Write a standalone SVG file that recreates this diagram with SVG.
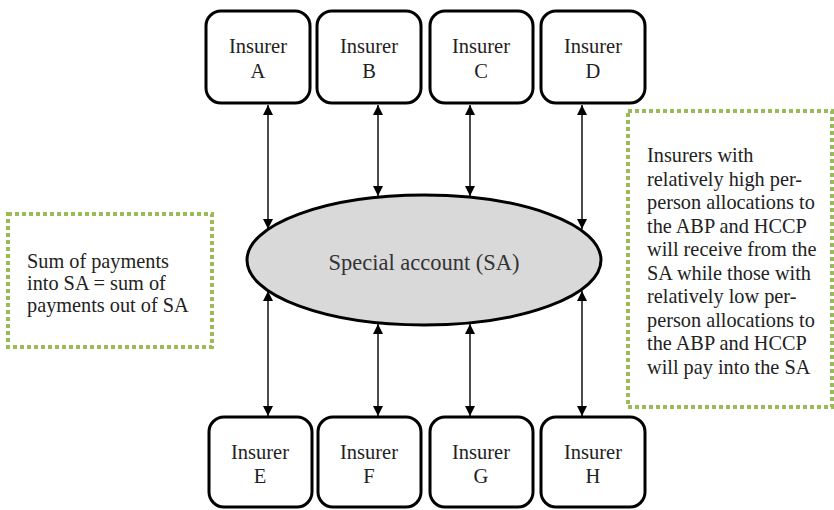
<svg xmlns="http://www.w3.org/2000/svg" width="834" height="510" viewBox="0 0 834 510">
  <defs>
    <marker id="arrow" viewBox="0 0 10 10" refX="10" refY="5" markerWidth="10" markerHeight="10" markerUnits="userSpaceOnUse" orient="auto-start-reverse">
      <path d="M0,0 L10,5 L0,10 Z" fill="#000"/>
    </marker>
  </defs>
  <style>
    .box { fill: #fff; stroke: #000; stroke-width: 3; }
    .lbl { font-family: "Liberation Serif", "Times New Roman", serif; font-size: 20.5px; fill: #222; text-anchor: middle; }
    .note { font-family: "Liberation Serif", "Times New Roman", serif; font-size: 20.3px; fill: #222; }
    .dotted { fill: #fff; stroke: #9bbb59; stroke-width: 4; stroke-dasharray: 4 3; }
    .link { stroke: #111; stroke-width: 1.5; fill: none; marker-start: url(#arrow); marker-end: url(#arrow); }
  </style>
  <rect width="834" height="510" fill="#fff"/>

  <!-- connectors between insurers and the special account -->
  <g id="connectors">
    <line class="link" x1="268" y1="105" x2="268" y2="229"/>
    <line class="link" x1="378" y1="105" x2="378" y2="196"/>
    <line class="link" x1="470" y1="105" x2="470" y2="196"/>
    <line class="link" x1="582" y1="105" x2="582" y2="229"/>
    <line class="link" x1="268" y1="291" x2="268" y2="416"/>
    <line class="link" x1="378" y1="324" x2="378" y2="416"/>
    <line class="link" x1="470" y1="324" x2="470" y2="416"/>
    <line class="link" x1="582" y1="291" x2="582" y2="416"/>
  </g>

  <!-- top row of insurers -->
  <g id="insurer-a">
    <rect class="box" x="206" y="11" width="104" height="92" rx="15"/>
    <text class="lbl" x="258" y="53">Insurer</text>
    <text class="lbl" x="258" y="78">A</text>
  </g>
  <g id="insurer-b">
    <rect class="box" x="317" y="11" width="104" height="92" rx="15"/>
    <text class="lbl" x="369" y="53">Insurer</text>
    <text class="lbl" x="369" y="78">B</text>
  </g>
  <g id="insurer-c">
    <rect class="box" x="430" y="11" width="103" height="92" rx="15"/>
    <text class="lbl" x="481" y="53">Insurer</text>
    <text class="lbl" x="481" y="78">C</text>
  </g>
  <g id="insurer-d">
    <rect class="box" x="541" y="11" width="104" height="92" rx="15"/>
    <text class="lbl" x="593" y="53">Insurer</text>
    <text class="lbl" x="593" y="78">D</text>
  </g>

  <!-- special account -->
  <g id="special-account">
    <ellipse cx="424" cy="260" rx="177" ry="65" fill="#d9d9d9" stroke="#000" stroke-width="3"/>
    <text x="424" y="270" font-family="Liberation Serif, Times New Roman, serif" font-size="22.5" fill="#333" text-anchor="middle">Special account (SA)</text>
  </g>

  <!-- bottom row of insurers -->
  <g id="insurer-e">
    <rect class="box" x="209" y="417" width="103" height="90" rx="15"/>
    <text class="lbl" x="260" y="459">Insurer</text>
    <text class="lbl" x="260" y="483">E</text>
  </g>
  <g id="insurer-f">
    <rect class="box" x="318" y="417" width="103" height="90" rx="15"/>
    <text class="lbl" x="369" y="459">Insurer</text>
    <text class="lbl" x="369" y="483">F</text>
  </g>
  <g id="insurer-g">
    <rect class="box" x="430" y="417" width="103" height="90" rx="15"/>
    <text class="lbl" x="481" y="459">Insurer</text>
    <text class="lbl" x="481" y="483">G</text>
  </g>
  <g id="insurer-h">
    <rect class="box" x="541" y="417" width="104" height="90" rx="15"/>
    <text class="lbl" x="593" y="459">Insurer</text>
    <text class="lbl" x="593" y="483">H</text>
  </g>

  <!-- balance note -->
  <g id="note-balance">
    <rect class="dotted" x="8" y="214" width="204" height="133"/>
    <text class="note" x="27" y="268">Sum of payments</text>
    <text class="note" x="27" y="290">into SA = sum of</text>
    <text class="note" x="27" y="312">payments out of SA</text>
  </g>

  <!-- redistribution note -->
  <g id="note-redistribution">
    <rect class="dotted" x="628" y="111" width="204" height="296"/>
    <text class="note" x="647" y="162">Insurers with</text>
    <text class="note" x="647" y="185.5">relatively high per-</text>
    <text class="note" x="647" y="209">person allocations to</text>
    <text class="note" x="647" y="232.5">the ABP and HCCP</text>
    <text class="note" x="647" y="256">will receive from the</text>
    <text class="note" x="647" y="279.5">SA while those with</text>
    <text class="note" x="647" y="303">relatively low per-</text>
    <text class="note" x="647" y="326.5">person allocations to</text>
    <text class="note" x="647" y="350">the ABP and HCCP</text>
    <text class="note" x="647" y="373.5">will pay into the SA</text>
  </g>
</svg>
